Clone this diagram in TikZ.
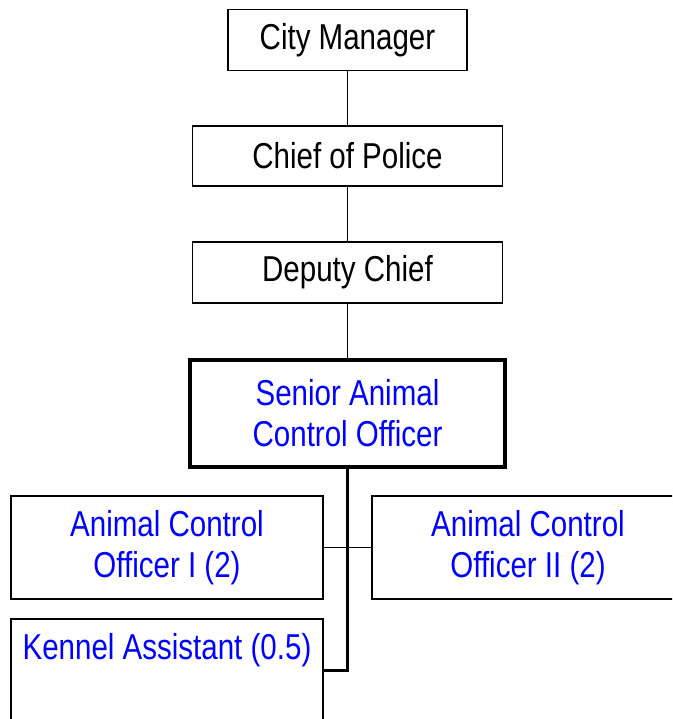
\documentclass[tikz,border=0pt]{standalone}
\usepackage{fontspec}
\setmainfont[FakeStretch=0.82]{Liberation Sans}
\definecolor{titleblue}{RGB}{0,0,255}
\begin{document}
\begin{tikzpicture}[x=1pt,y=-1pt,
  box/.style={draw=black, line width=1.5pt, fill=white, rectangle, inner sep=0pt,
    align=center, font=\fontsize{36}{41}\selectfont},
  topbox/.style={box, text=black},
  unitbox/.style={box, text=titleblue},
  link/.style={draw=black, line width=1.5pt},
  trunk/.style={draw=black, line width=2.6pt}]
  \useasboundingbox (0,0) rectangle (672,719);
  \clip (0,0) rectangle (672,719);

  % chain of command
  \node[topbox, minimum width=239pt, minimum height=61pt] (cm) at (347.5,40) {City Manager};
  \node[topbox, minimum width=310pt, minimum height=60pt] (chief) at (347.5,156) {Chief of Police};
  \node[topbox, minimum width=310pt, minimum height=61pt] (deputy) at (347.5,272.5) {Deputy Chief};
  \node[unitbox, line width=4pt, minimum width=315pt, minimum height=107pt] (saco) at (347.5,413) {Senior Animal\\Control Officer};

  % staff positions
  \node[unitbox, minimum width=312pt, minimum height=103pt] (aco1) at (167,547.5) {Animal Control\\Officer I (2)};
  \node[unitbox, minimum width=312pt, minimum height=103pt] (aco2) at (528,547.5) {Animal Control\\Officer II (2)};
  \node[unitbox, minimum width=312pt, minimum height=103pt] (kennel) at (167,670.5) {};
  \path (kennel.north) ++(0,41) node[anchor=base, text=titleblue, inner sep=0pt,
    font=\fontsize{36}{41}\selectfont] (kennelText) {Kennel Assistant (0.5)};

  % reporting lines
  \draw[link] (cm.south) -- (chief.north);
  \draw[link] (chief.south) -- (deputy.north);
  \draw[link] (deputy.south) -- (saco.north);
  \draw[link, line width=1.2pt] (aco1.east) -- (aco2.west);
  \draw[trunk] (saco.south) |- (kennel.east);
\end{tikzpicture}
\end{document}
